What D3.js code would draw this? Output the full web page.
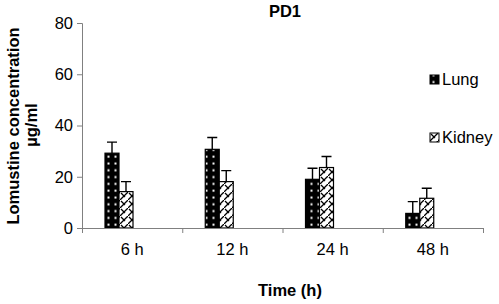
<!DOCTYPE html>
<html>
<head>
<meta charset="utf-8">
<script src="https://cdn.jsdelivr.net/npm/d3@7"></script>
<style>
  body { margin: 0; background: #fff; }
  text { font-family: "Liberation Sans", Arial, sans-serif; }
</style>
</head>
<body>
<svg width="499" height="304"></svg>
<script>
const times = ['6 h', '12 h', '24 h', '48 h'];
const seriesNames = ['Lung', 'Kidney'];
const lung = [29.2, 30.7, 19.0, 5.7];
const kidney = [14.2, 18.1, 23.6, 11.6];
const lungErr = [4.3, 4.6, 4.3, 4.6];
const kidneyErr = [3.9, 4.3, 4.3, 3.9];
const yTicks = [0, 20, 40, 60, 80];

const svg = d3.select('svg');
const plotLeft = 82, plotRight = 483, plotTop = 23, plotBottom = 228;
const fontSize = 16.5;

const x = d3.scaleBand().domain(times).range([plotLeft, plotRight]);
const y = d3.scaleLinear().domain([0, 80]).range([plotBottom, plotTop]);

// patterns
const defs = svg.append('defs');
const dots = defs.append('pattern')
    .attr('id', 'dots').attr('patternUnits', 'userSpaceOnUse')
    .attr('x', 105).attr('y', plotBottom)
    .attr('width', 7).attr('height', 6.8);
dots.append('rect').attr('width', 7).attr('height', 6.8).attr('fill', '#000');
dots.append('rect').attr('x', 2.5).attr('y', 2.5).attr('width', 2).attr('height', 2).attr('fill', '#fff');

const hatch = defs.append('pattern')
    .attr('id', 'hatch').attr('patternUnits', 'userSpaceOnUse')
    .attr('width', 8).attr('height', 8);
hatch.append('rect').attr('width', 8).attr('height', 8).attr('fill', '#fff');
hatch.append('path').attr('d', 'M0,8 L8,0 M1,1 L5,5')
    .attr('stroke', '#000').attr('stroke-width', 1.3).attr('fill', 'none');

const fills = ['url(#dots)', 'url(#hatch)'];
const values = [lung, kidney];
const errs = [lungErr, kidneyErr];
const barW = 14, offset = 23;

// bars
values.forEach((vals, s) => {
  const g = svg.append('g');
  g.selectAll('rect').data(vals).enter().append('rect')
      .attr('x', (d, i) => x(times[i]) + offset + s * barW)
      .attr('y', d => y(d))
      .attr('width', barW)
      .attr('height', d => y(0) - y(d))
      .attr('fill', fills[s])
      .attr('stroke', '#000').attr('stroke-width', 1.2);
  // error bars (upper only)
  g.selectAll('path.err').data(vals).enter().append('path')
      .attr('class', 'err')
      .attr('d', (d, i) => {
        const cx = x(times[i]) + offset + s * barW + barW / 2;
        const y0 = y(d), y1 = y(d + errs[s][i]);
        return `M${cx},${y0}V${y1}M${cx - 5},${y1}H${cx + 5}`;
      })
      .attr('stroke', '#000').attr('stroke-width', 1.4).attr('fill', 'none');
});

// axes
const yAxis = svg.append('g').attr('transform', `translate(${plotLeft},0)`)
    .call(d3.axisLeft(y).tickValues(yTicks).tickSize(5).tickPadding(4));
yAxis.select('.domain').attr('stroke', '#808080');
yAxis.selectAll('.tick line').attr('stroke', '#808080');
yAxis.selectAll('.tick text').attr('font-size', fontSize).attr('fill', '#000')
    .attr('font-family', '"Liberation Sans", Arial, sans-serif');

const xAxis = svg.append('g').attr('transform', `translate(0,${plotBottom})`)
    .call(d3.axisBottom(d3.scaleLinear().domain([0, 4]).range([plotLeft, plotRight]))
      .tickValues([0, 1, 2, 3, 4]).tickSize(5).tickFormat(''));
xAxis.select('.domain').attr('stroke', '#808080');
xAxis.selectAll('.tick line').attr('stroke', '#808080');
svg.append('g').selectAll('text').data(times).enter().append('text')
    .attr('x', d => x(d) + x.bandwidth() / 2)
    .attr('y', 255)
    .attr('text-anchor', 'middle')
    .attr('font-size', fontSize)
    .text(d => d);

// titles
svg.append('text').attr('x', 285).attr('y', 17).attr('text-anchor', 'middle')
    .attr('font-size', fontSize).attr('font-weight', 'bold').text('PD1');
svg.append('text').attr('x', 290).attr('y', 296).attr('text-anchor', 'middle')
    .attr('font-size', fontSize).attr('font-weight', 'bold').text('Time (h)');
const yt = svg.append('text').attr('transform', 'translate(0,126) rotate(-90)')
    .attr('text-anchor', 'middle').attr('font-size', fontSize).attr('font-weight', 'bold');
yt.append('tspan').attr('x', 0).attr('y', 19).text('Lomustine concentration');
yt.append('tspan').attr('x', 1).attr('y', 37).text('µg/ml');

// legend
const legY = [75, 133];
const leg = svg.append('g').selectAll('g').data(seriesNames).enter().append('g')
    .attr('transform', (d, i) => `translate(430,${legY[i]})`);
leg.append('rect').attr('width', 9).attr('height', 9)
    .attr('fill', (d, i) => fills[i]).attr('stroke', '#000');
leg.append('text').attr('x', 12).attr('y', 9.5).attr('font-size', fontSize).text(d => d);
</script>
</body>
</html>
